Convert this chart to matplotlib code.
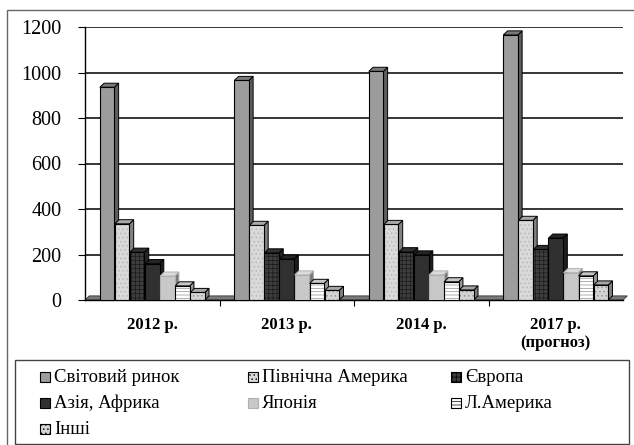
import numpy as np
import matplotlib.pyplot as plt
from matplotlib.patches import Polygon, Rectangle
from matplotlib.colors import to_rgb

SERIF = ['Liberation Serif', 'DejaVu Serif']
plt.rcParams['font.family'] = SERIF
plt.rcParams['hatch.linewidth'] = 0.5

years = ['2012 р.', '2013 р.', '2014 р.', '2017 р.\n(прогноз)']
series = ['Світовий ринок', 'Північна Америка', 'Європа', 'Азія, Африка',
          'Японія', 'Л.Америка', 'Інші']

world = [935, 965, 1005, 1165]
north_america = [335, 328, 332, 350]
europe = [210, 207, 212, 222]
asia_africa = [160, 180, 198, 272]
japan = [105, 110, 110, 120]
latin_america = [62, 73, 80, 106]
other = [33, 42, 44, 66]

values = [world, north_america, europe, asia_africa, japan, latin_america, other]
colors = ['#9c9c9c', '#d9d9d9', '#3e3e3e', '#303030', '#c8c8c8', '#ffffff', '#d4d4d4']
hatches = [None, '....', '++++', None, None, '-----', '....']
hatch_colors = [None, '#b4b4b4', '#1a1a1a', None, None, '#909090', '#909090']
edge_colors = ['black', 'black', 'black', 'black', '#b0b0b0', 'black', 'black']

fig = plt.figure(figsize=(6.34, 4.45), dpi=100)
W, H = 634.0, 445.0
# outer frame
fig.patches.append(Rectangle((7 / W, -0.02), 1.0, 1 - 10 / H + 0.02,
                             transform=fig.transFigure, fill=False,
                             edgecolor='#666666', linewidth=1.0))

ax = fig.add_axes([85 / W, 1 - 300 / H, 538 / W, 273 / H])
ax.set_xlim(-0.5, 3.5)
ax.set_ylim(0, 1200)

step = 0.112
width = 0.108
dx = 0.032
dy = 18

# floor strip
ax.add_patch(Polygon([(-0.5, 0), (3.5, 0), (3.5 + dx, dy), (-0.5 + dx, dy)],
                     closed=True, facecolor='#7a7a7a', edgecolor='#333333',
                     lw=0.6, zorder=1, clip_on=False))

x = np.arange(len(years))
for i, vals in enumerate(values):
    c, h, hc, ec = colors[i], hatches[i], hatch_colors[i], edge_colors[i]
    xs = x + (i - 3) * step
    z = 3 + i
    if h:
        ax.bar(xs, vals, width=width, color=c, hatch=h, edgecolor=hc,
               linewidth=0, zorder=z)
        ax.bar(xs, vals, width=width, fill=False, edgecolor=ec,
               linewidth=0.8, zorder=z)
    else:
        ax.bar(xs, vals, width=width, color=c, edgecolor=ec,
               linewidth=0.8, zorder=z)
    rgb = np.array(to_rgb(c))
    side = rgb * 0.6
    top = rgb * 0.78 if i != 4 else np.clip(rgb * 1.1, 0, 1)
    for xc, v in zip(xs, vals):
        l, r = xc - width / 2, xc + width / 2
        ax.add_patch(Polygon([(r, 0), (r + dx, dy), (r + dx, v + dy), (r, v)],
                             closed=True, facecolor=side, edgecolor=ec,
                             lw=0.7, zorder=z - 0.1))
        ax.add_patch(Polygon([(l, v), (r, v), (r + dx, v + dy), (l + dx, v + dy)],
                             closed=True, facecolor=top, edgecolor=ec,
                             lw=0.7, zorder=z - 0.1))

ax.set_yticks(range(0, 1201, 200))
ax.yaxis.grid(True, color='black', linewidth=1.1, zorder=0)
ax.set_axisbelow(True)
ax.tick_params(axis='y', labelsize=14.5, length=5, width=0.8, direction='out', pad=12)
ax.set_xticks(x)
ax.set_xticklabels(years, fontsize=12, fontweight='bold')
ax.tick_params(axis='x', length=0, pad=12)
ax.set_xticks([0.5, 1.5, 2.5], minor=True)
ax.tick_params(axis='x', which='minor', length=4, width=0.8)
for s in ['top', 'right']:
    ax.spines[s].set_visible(False)
ax.spines['left'].set_linewidth(1.0)
ax.spines['bottom'].set_linewidth(1.0)

# legend box, filled row by row
fig.patches.append(Rectangle((15 / W, 1 / H), 614 / W, 84 / H,
                             transform=fig.transFigure, fill=False,
                             edgecolor='#444444', linewidth=1.0))
col_x = [40, 248, 451]
row_y = [377, 403, 429]
for k, name in enumerate(series):
    cx = col_x[k % 3]
    cy = row_y[k // 3]
    fig.patches.append(Rectangle((cx / W, 1 - (cy + 5) / H), 10 / W, 10 / H,
                                 transform=fig.transFigure, facecolor=colors[k],
                                 hatch=hatches[k], edgecolor=edge_colors[k],
                                 linewidth=0.8))
    fig.text((cx + 14) / W, 1 - cy / H, name, fontsize=13.5, va='center',
             ha='left', family=SERIF)

fig.savefig('out.png', dpi=100)
